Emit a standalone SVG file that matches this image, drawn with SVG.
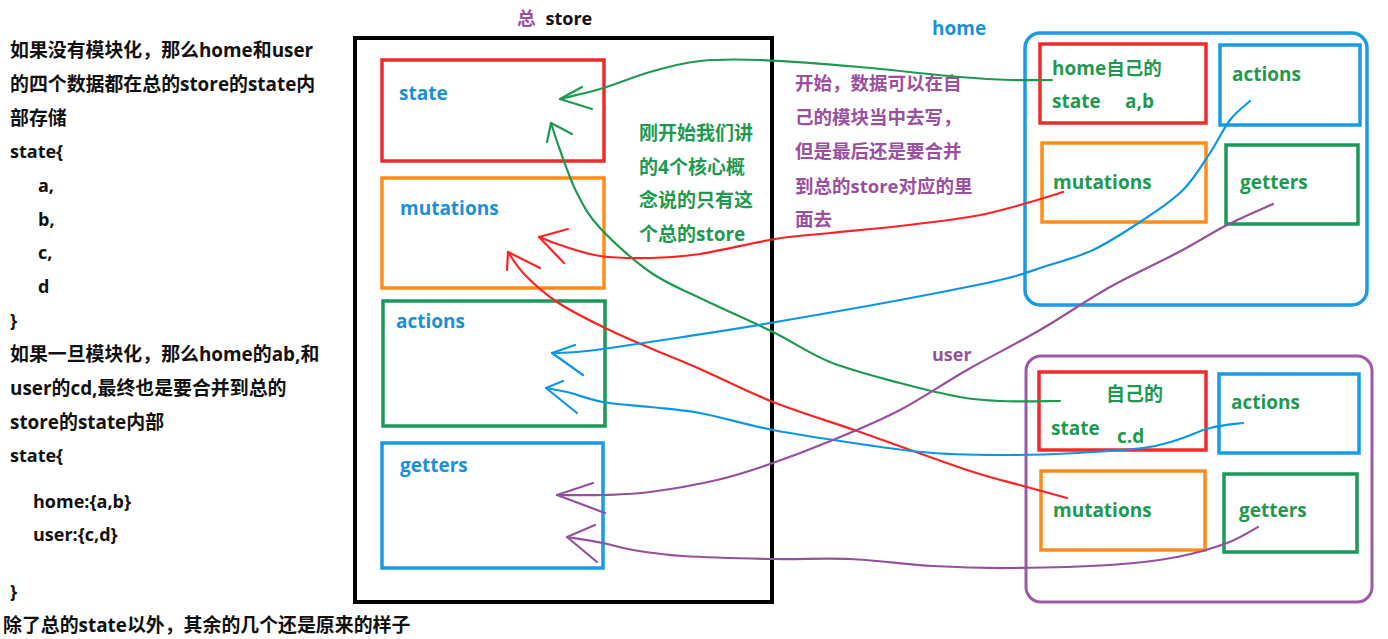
<svg xmlns="http://www.w3.org/2000/svg" width="1388" height="639" viewBox="0 0 1388 639">
<style>
text{font-family:"Open Sans","Noto Sans CJK SC",sans-serif;font-weight:bold;font-size:18px}
.cn{font-family:"Noto Sans CJK SC",sans-serif;font-size:18.5px}
.lt{font-size:18.9px}
.blk{fill:#111}
.lbl{fill:#1a90d9;font-size:19px}
.gt{fill:#1e9a50;font-size:19px}
.pt{fill:#9a4fa0}
.box{fill:none;stroke-width:3.5}
.r{stroke:#f02a2a}.o{stroke:#ff8c1a}.g{stroke:#1a9a5a}.b{stroke:#1a9be6}
.c{fill:none;stroke-width:2.2;stroke-linecap:round;stroke-linejoin:round}
.cg{stroke:#1e9a50}.cr{stroke:#ff2222}.cb{stroke:#0d96e6}.cp{stroke:#96509c}
</style>
<rect width="1388" height="639" fill="#fff"/>
<g id="left-text">
<text class="blk cn lt" x="10" y="57">如果没有模块化，那么<tspan font-family="Open Sans">home</tspan>和<tspan font-family="Open Sans">user</tspan></text>
<text class="blk cn lt" x="10" y="91">的四个数据都在总的<tspan font-family="Open Sans">store</tspan>的<tspan font-family="Open Sans">state</tspan>内</text>
<text class="blk cn lt" x="10" y="125">部存储</text>
<text class="blk" x="10" y="158">state{</text>
<text class="blk" x="38" y="192">a,</text>
<text class="blk" x="38" y="226">b,</text>
<text class="blk" x="38" y="259">c,</text>
<text class="blk" x="38" y="293">d</text>
<text class="blk" x="10" y="327">}</text>
<text class="blk cn lt" x="10" y="361">如果一旦模块化，那么<tspan font-family="Open Sans">home</tspan>的<tspan font-family="Open Sans">ab,</tspan>和</text>
<text class="blk cn lt" x="10" y="395"><tspan font-family="Open Sans">user</tspan>的<tspan font-family="Open Sans">cd,</tspan>最终也是要合并到总的</text>
<text class="blk cn lt" x="10" y="429"><tspan font-family="Open Sans">store</tspan>的<tspan font-family="Open Sans">state</tspan>内部</text>
<text class="blk" x="10" y="462">state{</text>
<text class="blk" x="33" y="508">home:{a,b}</text>
<text class="blk" x="33" y="541">user:{c,d}</text>
<text class="blk" x="10" y="598">}</text>
<text class="blk cn lt" x="3" y="632">除了总的<tspan font-family="Open Sans">state</tspan>以外，其余的几个还是原来的样子</text>
</g>
<g id="store">
<text x="517" y="25"><tspan class="cn" fill="#9a4fa0">总</tspan><tspan class="blk" dx="10">store</tspan></text>
<rect x="355" y="38" width="417" height="564" fill="none" stroke="#000" stroke-width="4"/>
</g>
<g id="store-state"><rect class="box r" x="382" y="60" width="222" height="101"/><text class="lbl" x="399" y="100">state</text></g>
<g id="store-mutations"><rect class="box o" x="382" y="178" width="222" height="110"/><text class="lbl" x="400" y="215">mutations</text></g>
<g id="store-actions"><rect class="box g" x="383" y="301" width="222" height="125"/><text class="lbl" x="396" y="328">actions</text></g>
<g id="store-getters"><rect class="box b" x="382" y="443" width="221" height="125"/><text class="lbl" x="400" y="472">getters</text></g>
<g id="note-green">
<text class="gt cn" x="639" y="140">刚开始我们讲</text>
<text class="gt cn" x="639" y="174">的<tspan font-family="Open Sans">4</tspan>个核心概</text>
<text class="gt cn" x="639" y="207">念说的只有这</text>
<text class="gt cn" x="639" y="241">个总的<tspan font-family="Open Sans">store</tspan></text>
</g>
<g id="note-purple">
<text class="pt cn" x="795" y="90">开始，数据可以在自</text>
<text class="pt cn" x="795" y="124">己的模块当中去写，</text>
<text class="pt cn" x="795" y="158">但是最后还是要合并</text>
<text class="pt cn" x="795" y="193">到总的<tspan font-family="Open Sans">store</tspan>对应的里</text>
<text class="pt cn" x="795" y="226">面去</text>
</g>
<g id="home">
<text class="lbl" x="932" y="35">home</text>
<rect x="1025" y="33" width="342" height="272" rx="15" fill="none" stroke="#1a9be6" stroke-width="3.5"/>
</g>
<g id="home-state"><rect class="box r" x="1040" y="44" width="166" height="79"/><text class="gt" x="1052" y="75">home<tspan class="cn">自己的</tspan></text><text class="gt" x="1052" y="108">state</text><text class="gt" x="1125" y="108">a,b</text></g>
<g id="home-actions"><rect class="box b" x="1220" y="45" width="140" height="80"/><text class="gt" x="1232" y="81">actions</text></g>
<g id="home-mutations"><rect class="box o" x="1042" y="143" width="164" height="79"/><text class="gt" x="1053" y="189">mutations</text></g>
<g id="home-getters"><rect class="box g" x="1226" y="145" width="132" height="79"/><text class="gt" x="1240" y="189">getters</text></g>
<g id="user">
<text x="932" y="361" fill="#96509c" font-size="18">user</text>
<rect x="1026" y="356" width="346" height="246" rx="15" fill="none" stroke="#9b59a6" stroke-width="3"/>
</g>
<g id="user-state"><rect class="box r" x="1039" y="372" width="167" height="78"/><text class="gt cn" x="1106" y="401">自己的</text><text class="gt" x="1051" y="435">state</text><text class="gt" x="1117" y="443">c.d</text></g>
<g id="user-actions"><rect class="box b" x="1219" y="374" width="140" height="79"/><text class="gt" x="1231" y="409">actions</text></g>
<g id="user-mutations"><rect class="box o" x="1041" y="471" width="164" height="79"/><text class="gt" x="1053" y="517">mutations</text></g>
<g id="user-getters"><rect class="box g" x="1224" y="474" width="133" height="78"/><text class="gt" x="1239" y="517">getters</text></g>
<g id="connectors">
<path class="c cg" d="M560,99 C567,97 585,93.5 600,89 S633,77 650,72 S682,63 700,61 S733,59 760,60 S827,64 860,67 S935,75 960,77 S995,79.5 1010,80 S1045,80 1052,80"/>
<path class="c cg" d="M582,87 L560,99 L592,109"/>
<path class="c cg" d="M551,123 C552.5,127.5 555.7,138.3 560,150 S570.3,180 577,193 S587.8,214.8 600,228 S633.3,260.3 650,272 S679.5,288 700,298 S751.3,321.3 773,332 S808.8,353.5 830,362 S878.3,377.2 900,383 S943.3,394 960,397 S983.3,400.3 1000,401 S1050,401 1060,401"/>
<path class="c cg" d="M547,142 L551,123 L572,134"/>
<path class="c cr" d="M539,237 C542.5,238.3 549.8,241.8 560,245 S585,253.8 600,256 S633.3,258.3 650,258 S679.2,257.2 700,254 S753.3,242.5 775,239 S809.2,235.2 830,233 S875.8,228.8 900,226 S955,219.5 975,216 S1005.3,209 1020,205 S1055.8,194.2 1063,192"/>
<path class="c cr" d="M568,229 L539,237 L564,263"/>
<path class="c cr" d="M508,252 C510.8,255.8 516.8,266.7 525,275 S544,293.3 557,302 S587.5,319.3 603,327 S633.8,341 650,348 S679.5,360 700,369 S746.3,391.5 773,402 S827.7,420.7 860,432 S939.2,460.8 967,470 S1010.3,482.3 1027,487 S1060.3,496.2 1067,498"/>
<path class="c cr" d="M507,270 L508,252 L540,268"/>
<path class="c cb" d="M552,353 C556.2,352.8 566.2,353 577,352 S599.3,349.5 617,347 S657.5,341 683,337 S733.8,329.2 770,323 S861.7,307.2 900,300 S976.2,285.5 1000,280 S1027.5,272 1043,267 S1076.3,257.8 1093,250 S1128,230 1143,220 S1171.8,201.2 1183,190 S1202.2,164.7 1210,153 S1223.3,128.7 1230,120 S1246.7,104.2 1250,101"/>
<path class="c cb" d="M575,345 L552,353 L583,375"/>
<path class="c cb" d="M546,388 C549.5,388.7 557.5,389.7 567,392 S589.2,399.5 603,402 S633.8,405.2 650,407 S679.5,409.2 700,413 S745.2,424.7 773,430 S840.3,441.2 867,445 S909.2,451.3 933,453 S986,455 1010,455 S1054.8,454.2 1077,453 S1126.3,450.2 1143,448 S1165.8,443.3 1177,440 S1199,430.8 1210,428 S1237.5,423.8 1243,423"/>
<path class="c cb" d="M563,381 L546,388 L577,413"/>
<path class="c cp" d="M557,495 C564.7,495 587.5,495.5 603,495 S631,494.5 650,492 S697,484.7 717,480 S750.7,470.7 770,464 S811.3,449 833,440 S877.7,421.7 900,410 S943.7,383.3 967,370 S1016.2,343.8 1040,330 S1087.2,299.8 1110,287 S1157.5,263.3 1177,253 S1211,233.2 1227,225 S1265.3,207.5 1273,204"/>
<path class="c cp" d="M593,483 L557,495 L605,513"/>
<path class="c cp" d="M567,537 C573,538 592,540.8 603,543 S619.7,547.8 633,550 S659.7,554.5 683,556 S745.2,558.5 773,559 S823.3,557.8 850,559 S906.3,564.5 933,566 S980.5,568.2 1010,568 S1082.2,566.8 1110,565 S1157.5,560.7 1177,557 S1213.5,548 1227,543 S1252.8,529.7 1258,527"/>
<path class="c cp" d="M595,525 L567,537 L597,562"/>
</g>
</svg>
